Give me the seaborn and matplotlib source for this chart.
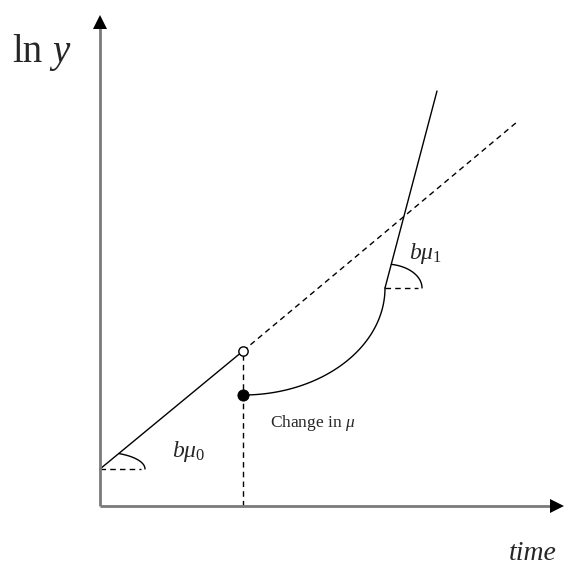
import numpy as np
import pandas as pd
import matplotlib
matplotlib.use('Agg')
import matplotlib.pyplot as plt
import seaborn as sns

# schematic values (time, ln y)
path0_t = [0, 143]
path0_y = [37, 155]
trend_t = [143, 417]
trend_y = [155, 384]
jump_t = [143, 143]
jump_y = [0, 155]
open_pt = (143, 155)
filled_pt = (143, 111)
bend_c = (285, 218)        # end of the adjustment curve
bend_r = (142, 107)
steep_t = [285, 337]
steep_y = [218, 415]
lo_arc = (0, 37, 45, 17, 65)     # center t, center y, rx, ry, end angle
hi_arc = (285, 218, 37, 24, 80)

sns.set_theme(style='white')
plt.rcParams['mathtext.fontset'] = 'custom'
plt.rcParams['mathtext.rm'] = 'Liberation Serif'
plt.rcParams['mathtext.it'] = 'Liberation Serif:italic'
plt.rcParams['font.family'] = ['Liberation Serif', 'DejaVu Serif']

fig = plt.figure(figsize=(5.64, 5.65), dpi=100)
ax = fig.add_axes([0, 0, 1, 1])

lw = 1.0
dash = (0, (4, 3))

sns.lineplot(x=path0_t, y=path0_y, color='black', lw=lw, estimator=None, sort=False, ax=ax)
sns.lineplot(x=trend_t, y=trend_y, color='black', lw=lw, linestyle=dash, estimator=None, sort=False, ax=ax)
sns.lineplot(x=jump_t, y=jump_y, color='black', lw=lw, linestyle=dash, estimator=None, sort=False, ax=ax)

# quarter ellipse from the jump point up to the new steep path
th = np.linspace(-np.pi / 2, 0, 80)
curve = pd.DataFrame({'t': (bend_c[0] - bend_r[0]) + bend_r[0] * np.cos(th),
                      'y': bend_c[1] + bend_r[1] * np.sin(th)})
sns.lineplot(data=curve, x='t', y='y', color='black', lw=lw, estimator=None, sort=False, ax=ax)
sns.lineplot(x=steep_t, y=steep_y, color='black', lw=lw, estimator=None, sort=False, ax=ax)

for ct, cy, rx, ry, end in [lo_arc, hi_arc]:
    a = np.radians(np.linspace(0, end, 40))
    sns.lineplot(x=ct + rx * np.cos(a), y=cy + ry * np.sin(a), color='black', lw=lw,
                 estimator=None, sort=False, ax=ax)
    sns.lineplot(x=[ct, ct + rx - 4], y=[cy, cy], color='black', lw=lw, linestyle=dash,
                 estimator=None, sort=False, ax=ax)

sns.scatterplot(x=[open_pt[0]], y=[open_pt[1]], s=45, facecolor='white', edgecolor='black',
                linewidth=1, zorder=5, ax=ax)
sns.scatterplot(x=[filled_pt[0]], y=[filled_pt[1]], s=65, color='black', edgecolor='black',
                zorder=5, ax=ax)

# axes arrows
ax.plot([0, 0], [0, 478], color='#7a7a7a', lw=2, solid_capstyle='butt')
ax.plot([0, 453], [0, 0], color='#7a7a7a', lw=2, solid_capstyle='butt')
ax.plot(0, 484, marker='^', color='black', ms=10, markeredgewidth=0)
ax.plot(457, 0, marker='>', color='black', ms=10, markeredgewidth=0)

ax.text(-88, 444, 'ln', fontsize=28, ha='left', va='baseline')
ax.text(-48, 444, 'y', fontsize=28, style='italic', ha='left', va='baseline')
ax.text(72, 55, r'$b\mu_0$', fontsize=17, ha='left', va='center')
ax.text(309, 253, r'$b\mu_1$', fontsize=17, ha='left', va='center')
ax.text(170, 83, r'Change in $\mu$', fontsize=12.5, ha='left', va='center')
ax.text(433, -47, 'time', fontsize=20, style='italic', ha='center', va='center')

ax.set_xlim(-100, 464)
ax.set_ylim(-59, 506)
ax.set_axis_off()

plt.savefig('out.png', dpi=100)
